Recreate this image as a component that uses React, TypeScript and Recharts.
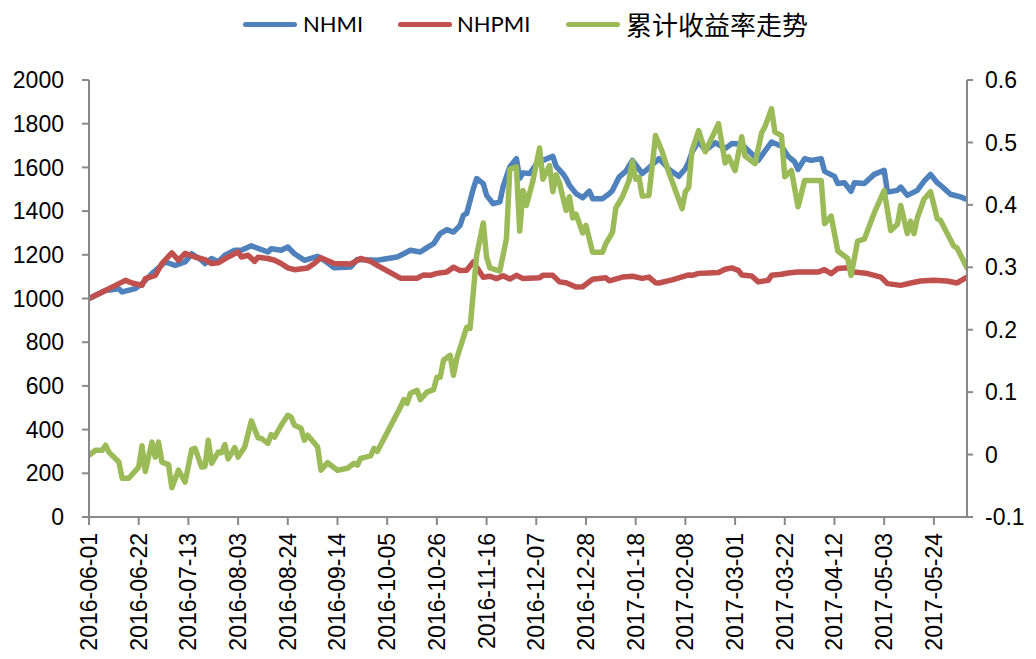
import React from 'react';
import { LineChart, Line, XAxis, YAxis } from 'recharts';

// Trading-day index (0 = 2016-06-01) of each tick label
const tickLabels = ['2016-06-01', '2016-06-22', '2016-07-13', '2016-08-03', '2016-08-24', '2016-09-14', '2016-10-05', '2016-10-26', '2016-11-16', '2016-12-07', '2016-12-28', '2017-01-18', '2017-02-08', '2017-03-01', '2017-03-22', '2017-04-12', '2017-05-03', '2017-05-24'];
const tickDays = [0, 15, 30, 45, 60, 75, 90, 105, 120, 135, 150, 165, 180, 195, 210, 225, 240, 255];
const lastDay = 265;

const leftTicks = [0, 200, 400, 600, 800, 1000, 1200, 1400, 1600, 1800, 2000];
const rightTicks = [-0.1, 0, 0.1, 0.2, 0.3, 0.4, 0.5, 0.6];

// NHMI
const nhmiDays = [0, 5, 9, 10, 14, 16, 19, 23, 26, 29, 31, 34, 35, 37, 39, 41, 44, 46, 49, 54, 55, 58, 60, 62, 65, 69, 71, 74, 79, 81, 87, 93, 95, 97, 100, 102, 104, 105, 106, 108, 110, 112, 113, 114, 116, 117, 119, 120, 122, 124, 125, 127, 129, 130, 131, 133, 135, 137, 140, 141, 143, 144, 145, 147, 149, 151, 152, 155, 157, 158, 160, 162, 164, 167, 169, 172, 174, 175, 178, 180, 181, 182, 184, 186, 189, 192, 194, 197, 200, 202, 204, 206, 209, 211, 213, 214, 216, 218, 221, 222, 225, 226, 228, 230, 231, 234, 237, 240, 241, 244, 245, 247, 250, 252, 254, 256, 257, 260, 263, 265];
const nhmiValues = [1000, 1037, 1045, 1030, 1045, 1068, 1114, 1167, 1152, 1167, 1205, 1175, 1160, 1183, 1167, 1198, 1221, 1221, 1241, 1213, 1228, 1221, 1236, 1205, 1175, 1193, 1175, 1141, 1144, 1179, 1175, 1190, 1205, 1221, 1213, 1233, 1251, 1274, 1297, 1315, 1304, 1335, 1381, 1390, 1503, 1549, 1526, 1472, 1434, 1442, 1513, 1602, 1640, 1550, 1575, 1572, 1614, 1632, 1651, 1605, 1572, 1549, 1518, 1480, 1461, 1491, 1457, 1457, 1479, 1495, 1556, 1582, 1632, 1572, 1598, 1640, 1610, 1591, 1559, 1594, 1625, 1670, 1719, 1678, 1713, 1686, 1709, 1706, 1663, 1632, 1674, 1716, 1697, 1651, 1625, 1591, 1640, 1632, 1640, 1582, 1559, 1526, 1530, 1491, 1530, 1526, 1568, 1587, 1487, 1495, 1510, 1472, 1495, 1536, 1568, 1530, 1518, 1477, 1465, 1454];

// NHPMI
const nhpmiDays = [0, 4, 8, 11, 13, 16, 17, 20, 22, 25, 27, 29, 32, 35, 37, 39, 42, 45, 46, 48, 50, 51, 54, 56, 58, 60, 62, 66, 68, 70, 74, 79, 82, 85, 87, 94, 99, 101, 103, 105, 108, 110, 112, 114, 116, 118, 119, 121, 123, 125, 127, 129, 131, 136, 137, 140, 142, 144, 147, 149, 152, 156, 157, 161, 164, 167, 169, 171, 172, 176, 181, 182, 184, 187, 190, 192, 194, 196, 197, 200, 202, 205, 206, 209, 211, 214, 217, 220, 222, 224, 226, 229, 231, 235, 239, 241, 245, 248, 251, 255, 259, 262, 265];
const nhpmiValues = [1000, 1030, 1060, 1083, 1071, 1060, 1091, 1106, 1160, 1209, 1175, 1207, 1190, 1178, 1160, 1163, 1190, 1213, 1190, 1198, 1170, 1189, 1183, 1175, 1160, 1140, 1132, 1140, 1160, 1187, 1160, 1158, 1183, 1170, 1152, 1093, 1093, 1108, 1106, 1115, 1121, 1143, 1128, 1129, 1167, 1120, 1097, 1102, 1091, 1104, 1089, 1106, 1091, 1095, 1106, 1106, 1076, 1072, 1053, 1054, 1088, 1095, 1081, 1098, 1102, 1092, 1098, 1072, 1071, 1085, 1108, 1106, 1115, 1117, 1119, 1134, 1140, 1129, 1108, 1103, 1076, 1083, 1106, 1111, 1117, 1121, 1121, 1121, 1132, 1114, 1137, 1141, 1121, 1114, 1098, 1068, 1060, 1071, 1080, 1083, 1080, 1071, 1098];

// 累计收益率走势 (right axis)
const returnDays = [0, 2, 4, 5, 6, 9, 10, 12, 15, 16, 17, 19, 20, 21, 22, 24, 25, 27, 29, 31, 32, 34, 35, 36, 37, 39, 40, 41, 42, 44, 45, 47, 49, 51, 52, 54, 55, 56, 58, 60, 61, 62, 64, 65, 66, 69, 70, 72, 75, 78, 80, 81, 82, 85, 86, 87, 94, 95, 96, 97, 99, 100, 102, 104, 105, 106, 107, 109, 110, 111, 114, 115, 117, 119, 120, 121, 124, 126, 127, 129, 130, 131, 132, 134, 136, 137, 139, 140, 141, 142, 144, 145, 146, 147, 149, 150, 152, 155, 156, 158, 159, 161, 163, 164, 165, 166, 167, 169, 171, 173, 175, 179, 180, 181, 182, 184, 186, 190, 192, 193, 195, 197, 198, 201, 203, 204, 206, 207, 209, 210, 212, 214, 216, 221, 222, 224, 226, 229, 230, 232, 234, 237, 240, 242, 244, 245, 247, 248, 249, 250, 252, 254, 256, 257, 261, 262, 265];
const returnValues = [-0.001, 0.007, 0.007, 0.015, 0.004, -0.012, -0.038, -0.038, -0.020, 0.014, -0.027, 0.020, -0.004, 0.020, -0.012, -0.016, -0.053, -0.025, -0.044, 0.008, 0.010, -0.020, -0.019, 0.023, -0.014, 0.004, 0.003, 0.016, -0.007, 0.011, -0.004, 0.012, 0.054, 0.027, 0.026, 0.018, 0.032, 0.028, 0.047, 0.063, 0.060, 0.047, 0.042, 0.023, 0.031, 0.012, -0.025, -0.013, -0.025, -0.022, -0.014, -0.017, -0.006, -0.002, 0.010, 0.005, 0.076, 0.088, 0.082, 0.098, 0.103, 0.088, 0.100, 0.104, 0.124, 0.124, 0.151, 0.159, 0.127, 0.154, 0.204, 0.202, 0.319, 0.371, 0.316, 0.299, 0.294, 0.346, 0.457, 0.461, 0.358, 0.423, 0.399, 0.439, 0.491, 0.441, 0.463, 0.421, 0.448, 0.435, 0.391, 0.413, 0.379, 0.385, 0.355, 0.367, 0.324, 0.324, 0.338, 0.356, 0.395, 0.413, 0.439, 0.470, 0.441, 0.444, 0.414, 0.415, 0.511, 0.485, 0.452, 0.394, 0.421, 0.428, 0.487, 0.519, 0.485, 0.530, 0.467, 0.477, 0.455, 0.509, 0.478, 0.466, 0.515, 0.525, 0.554, 0.517, 0.511, 0.445, 0.455, 0.397, 0.439, 0.439, 0.370, 0.382, 0.326, 0.314, 0.287, 0.342, 0.345, 0.387, 0.423, 0.359, 0.369, 0.399, 0.354, 0.374, 0.354, 0.379, 0.409, 0.421, 0.378, 0.375, 0.334, 0.331, 0.299];

const nhmiData = nhmiDays.map((d, i) => ({ day: d, v: nhmiValues[i] }));
const nhpmiData = nhpmiDays.map((d, i) => ({ day: d, v: nhpmiValues[i] }));
const returnData = returnDays.map((d, i) => ({ day: d, v: returnValues[i] }));

const BLUE = '#4F81BD';
const RED = '#C0504D';
const GREEN = '#9BBB59';
const AXIS = '#898989';
const TICK_FONT = '"Liberation Sans", Arial, sans-serif';
const LINE_W = 5.5;

const XTick = (props: any) => {
  const { x, y, payload } = props;
  const idx = tickDays.indexOf(payload.value);
  const label = idx >= 0 ? tickLabels[idx] : '';
  return (
    <text
      x={x}
      y={y}
      transform={`rotate(-90 ${x} ${y})`}
      textAnchor="end"
      dominantBaseline="central"
      fontFamily={TICK_FONT}
      fontSize={23}
      fill="#000"
    >
      {label}
    </text>
  );
};

const legendItems = [
  { name: 'NHMI', color: BLUE, lineLeft: 243, textLeft: 303, font: 'Lato, sans-serif', size: 22 },
  { name: 'NHPMI', color: RED, lineLeft: 398, textLeft: 457, font: 'Lato, sans-serif', size: 22 },
  { name: '累计收益率走势', color: GREEN, lineLeft: 566, textLeft: 626, font: '"Noto Sans CJK SC", sans-serif', size: 26 },
];

export default function App() {
  return (
    <div style={{ position: 'absolute', left: 0, top: 0, width: 1036, height: 659, background: '#fff' }}>
      {legendItems.map((it) => (
        <React.Fragment key={it.name}>
          <div
            style={{
              position: 'absolute',
              left: it.lineLeft,
              top: 22,
              width: 54,
              height: 5,
              borderRadius: 3,
              background: it.color,
            }}
          />
          <div
            style={{
              position: 'absolute',
              left: it.textLeft,
              top: 24,
              transform: 'translateY(-50%)',
              fontFamily: it.font,
              fontSize: it.size,
              lineHeight: 1,
              color: '#000',
              whiteSpace: 'nowrap',
            }}
          >
            {it.name}
          </div>
        </React.Fragment>
      ))}
      <LineChart width={1036} height={659} margin={{ top: 80, right: 0, left: 0, bottom: 0 }}>
        <XAxis
          dataKey="day"
          type="number"
          domain={[0, lastDay]}
          ticks={tickDays}
          interval={0}
          allowDataOverflow
          height={142}
          stroke={AXIS}
          strokeWidth={2}
          tickSize={8}
          tickMargin={8}
          tickLine={{ stroke: AXIS, strokeWidth: 2 }}
          tick={<XTick />}
        />
        <YAxis
          yAxisId="left"
          orientation="left"
          domain={[0, 2000]}
          ticks={leftTicks}
          interval={0}
          width={89}
          stroke={AXIS}
          strokeWidth={2}
          tickSize={7}
          tickMargin={18}
          tickLine={{ stroke: AXIS, strokeWidth: 2 }}
          tick={{ fill: '#000', fontSize: 23, fontFamily: TICK_FONT }}
        />
        <YAxis
          yAxisId="right"
          orientation="right"
          domain={[-0.1, 0.6]}
          ticks={rightTicks}
          interval={0}
          width={69}
          stroke={AXIS}
          strokeWidth={2}
          tickSize={6}
          tickMargin={12}
          tickLine={{ stroke: AXIS, strokeWidth: 2 }}
          tickFormatter={(v: number) => (Math.abs(v) < 1e-9 ? '0' : v.toFixed(1))}
          tick={{ fill: '#000', fontSize: 23, fontFamily: TICK_FONT }}
        />
        <Line
          yAxisId="left"
          data={nhmiData}
          dataKey="v"
          name="NHMI"
          type="linear"
          stroke={BLUE}
          strokeWidth={LINE_W}
          strokeLinejoin="round"
          strokeLinecap="round"
          dot={false}
          activeDot={false}
          isAnimationActive={false}
        />
        <Line
          yAxisId="left"
          data={nhpmiData}
          dataKey="v"
          name="NHPMI"
          type="linear"
          stroke={RED}
          strokeWidth={LINE_W}
          strokeLinejoin="round"
          strokeLinecap="round"
          dot={false}
          activeDot={false}
          isAnimationActive={false}
        />
        <Line
          yAxisId="right"
          data={returnData}
          dataKey="v"
          name="累计收益率走势"
          type="linear"
          stroke={GREEN}
          strokeWidth={LINE_W}
          strokeLinejoin="round"
          strokeLinecap="round"
          dot={false}
          activeDot={false}
          isAnimationActive={false}
        />
      </LineChart>
    </div>
  );
}
